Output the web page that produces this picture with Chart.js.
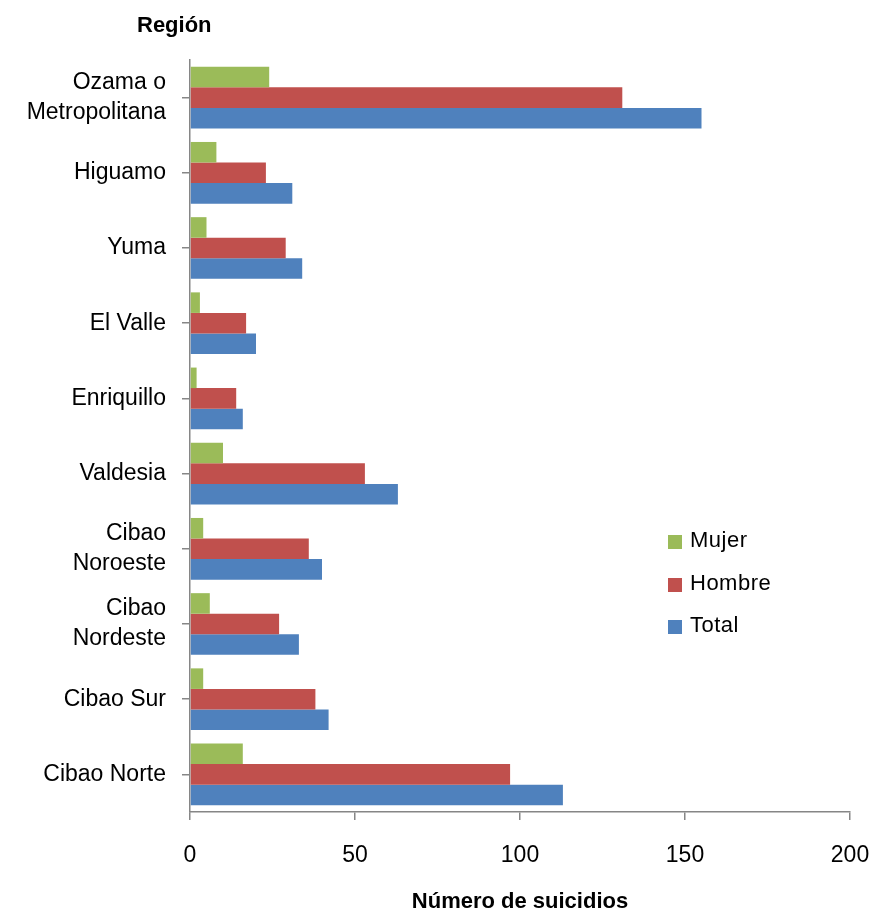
<!DOCTYPE html>
<html>
<head>
<meta charset="utf-8">
<script src="https://cdn.jsdelivr.net/npm/chart.js@4/dist/chart.umd.min.js"></script>
<style>
  html, body { margin: 0; padding: 0; background: #fff; }
  #wrap { position: relative; width: 877px; height: 915px; }
  #chart { display: block; }
  .axis-title { position: absolute; font-family: "Liberation Sans", Arial, sans-serif; font-weight: bold; font-size: 22px; color: #000; }
  #legend { position: absolute; left: 668px; top: 527px; font-family: "Liberation Sans", Arial, sans-serif; font-size: 22px; letter-spacing: 0.5px; color: #000; }
  #legend div { height: 42.5px; display: flex; align-items: flex-start; }
  #legend span.box { display: inline-block; width: 14px; height: 14px; margin: 8px 8px 0 0; }
</style>
</head>
<body>
<div id="wrap">
  <canvas id="chart" width="877" height="915"></canvas>
  <div class="axis-title" style="left:137px; top:12px;">Región</div>
  <div id="legend"></div>
</div>
<script>
const regions = [
  ["Ozama o", "Metropolitana"],
  "Higuamo",
  "Yuma",
  "El Valle",
  "Enriquillo",
  "Valdesia",
  ["Cibao", "Noroeste"],
  ["Cibao", "Nordeste"],
  "Cibao Sur",
  "Cibao Norte",
];
const mujer = [24, 8, 5, 3, 2, 10, 4, 6, 4, 16];
const hombre = [131, 23, 29, 17, 14, 53, 36, 27, 38, 97];
const total = [155, 31, 34, 20, 16, 63, 40, 33, 42, 113];
const xTicks = [0, 50, 100, 150, 200];

const seriesNames = ["Mujer", "Hombre", "Total"];
const seriesColors = ["#9BBB59", "#C0504D", "#4F81BD"];

const legend = document.getElementById("legend");
seriesNames.forEach((name, i) => {
  const row = document.createElement("div");
  row.innerHTML = '<span class="box" style="background:' + seriesColors[i] + '"></span>' + name;
  legend.appendChild(row);
});

const font = "'Liberation Sans', Arial, sans-serif";

new Chart(document.getElementById("chart").getContext("2d"), {
  type: "bar",
  data: {
    labels: regions,
    datasets: [mujer, hombre, total].map((values, i) => ({
      label: seriesNames[i],
      data: values,
      backgroundColor: seriesColors[i],
      borderWidth: 0,
      categoryPercentage: 0.82,
      barPercentage: 1.0,
    })),
  },
  options: {
    indexAxis: "y",
    responsive: false,
    animation: false,
    layout: { padding: { top: 60, right: 27, left: 0, bottom: 0 } },
    plugins: {
      legend: { display: false },
      tooltip: { enabled: false },
    },
    scales: {
      x: {
        min: 0,
        max: 200,
        afterBuildTicks: (scale) => {
          scale.ticks = xTicks.map((v) => ({ value: v }));
        },
        grid: {
          drawOnChartArea: false,
          drawTicks: true,
          tickLength: 8,
          color: "#868686",
          lineWidth: 1.5,
        },
        border: { color: "#868686", width: 1.5 },
        ticks: {
          color: "#000",
          padding: 22,
          font: { family: font, size: 23 },
        },
        title: {
          display: true,
          text: "Número de suicidios",
          color: "#000",
          padding: { top: 14, bottom: 0 },
          font: { family: font, size: 22, weight: "bold" },
        },
        afterFit: (scale) => {
          scale.height = 103;
          scale.paddingLeft = 0;
          scale.paddingRight = 0;
        },
      },
      y: {
        grid: {
          offset: false,
          drawOnChartArea: false,
          drawTicks: true,
          tickLength: 8,
          color: "#868686",
          lineWidth: 1.5,
        },
        border: { color: "#868686", width: 1.5 },
        ticks: {
          color: "#000",
          padding: 16,
          font: { family: font, size: 23, lineHeight: 1.3 },
        },
        afterFit: (scale) => {
          scale.width = 190;
          scale.paddingTop = 0;
          scale.paddingBottom = 0;
        },
      },
    },
  },
});
</script>
</body>
</html>
